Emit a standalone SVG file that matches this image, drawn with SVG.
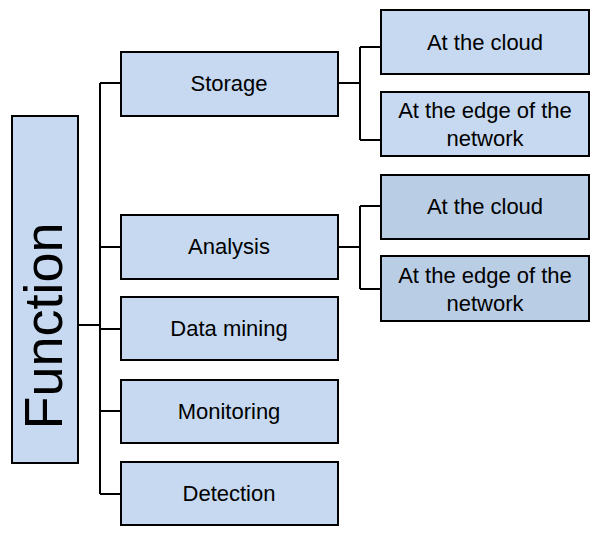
<svg xmlns="http://www.w3.org/2000/svg" width="607" height="542" viewBox="0 0 607 542">
<style>
rect{fill:#c6d9f0;stroke:#000;stroke-width:2}
rect.d{fill:#b9cde5}
text{font-family:"Liberation Sans",Arial,sans-serif;font-size:22px;fill:#000;text-anchor:middle}
.c{fill:none;stroke:#000;stroke-width:2}
</style>
<rect width="607" height="542" style="fill:#fff;stroke:none"/>
<g id="connectors">
<path class="c" d="M78 325H100M100 83V494M100 83H121M100 247H121M100 329H121M100 411H121M100 494H121"/>
<path class="c" d="M338 83H360M360 47V140M360 47H381M360 140H381"/>
<path class="c" d="M338 247H360M360 206V289M360 206H381M360 289H381"/>
</g>
<g id="function"><rect x="12" y="116" width="66" height="347"/><text transform="translate(62 326) rotate(-90)" style="font-size:54px">Function</text></g>
<g id="storage"><rect x="121" y="52" width="217" height="64"/><text x="229" y="91">Storage</text></g>
<g id="analysis"><rect x="121" y="215" width="217" height="64"/><text x="229" y="254">Analysis</text></g>
<g id="datamining"><rect x="121" y="297" width="217" height="63"/><text x="229" y="336">Data mining</text></g>
<g id="monitoring"><rect x="121" y="380" width="217" height="63"/><text x="229" y="419">Monitoring</text></g>
<g id="detection"><rect x="121" y="462" width="217" height="63"/><text x="229" y="501">Detection</text></g>
<g id="cloud1"><rect x="381" y="10" width="208" height="64"/><text x="485" y="50">At the cloud</text></g>
<g id="edge1"><rect x="381" y="92" width="208" height="64"/><text x="485" y="118">At the edge of the</text><text x="485" y="146">network</text></g>
<g id="cloud2"><rect class="d" x="381" y="175" width="208" height="64"/><text x="485" y="214">At the cloud</text></g>
<g id="edge2"><rect class="d" x="381" y="256" width="208" height="65"/><text x="485" y="283">At the edge of the</text><text x="485" y="311">network</text></g>
</svg>
